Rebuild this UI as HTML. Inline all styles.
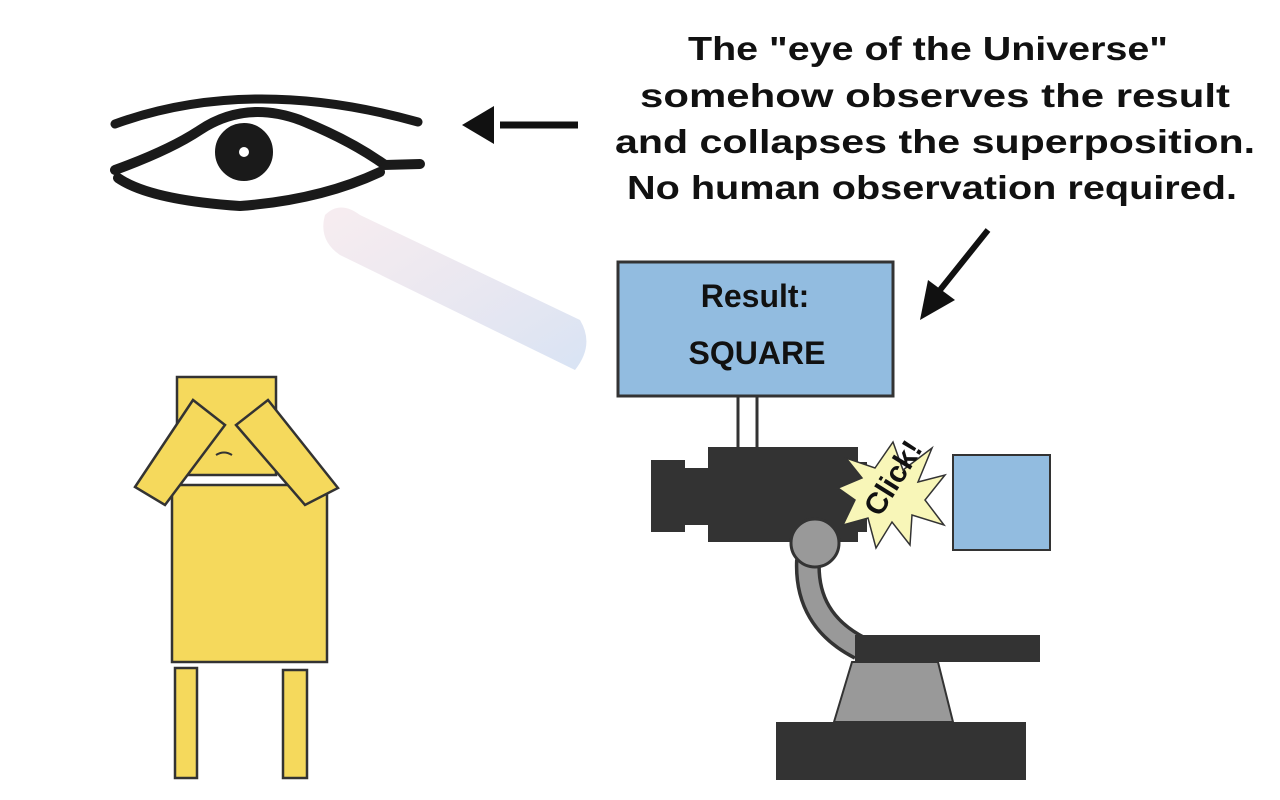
<!DOCTYPE html>
<html><head><meta charset="utf-8"><style>
html,body{margin:0;padding:0;background:#fff}
svg{display:block}
text{font-family:"Liberation Sans",sans-serif}
</style></head><body>
<svg width="1280" height="800" viewBox="0 0 1280 800" xmlns="http://www.w3.org/2000/svg">
<defs>
<linearGradient id="beam" x1="0" y1="0" x2="1" y2="1">
<stop offset="0" stop-color="#d8a8b8" stop-opacity="0.3"/>
<stop offset="1" stop-color="#90b0e0" stop-opacity="0.5"/>
</linearGradient>
</defs>
<g font-size="33" fill="#111" text-anchor="middle" font-weight="bold">
<text x="928" y="60" textLength="480" lengthAdjust="spacingAndGlyphs">The "eye of the Universe"</text>
<text x="935" y="107" textLength="590" lengthAdjust="spacingAndGlyphs">somehow observes the result</text>
<text x="935" y="153" textLength="640" lengthAdjust="spacingAndGlyphs">and collapses the superposition.</text>
<text x="932" y="199" textLength="610" lengthAdjust="spacingAndGlyphs">No human observation required.</text>
</g>
<line x1="578" y1="125" x2="500" y2="125" stroke="#111" stroke-width="7"/>
<polygon points="462,125 494,106 494,144" fill="#111"/>
<line x1="988" y1="230" x2="940" y2="290" stroke="#111" stroke-width="6"/>
<polygon points="920,320 928,280 955,300" fill="#111"/>
<g fill="none" stroke="#1a1a1a" stroke-linecap="round">
<path d="M115,124 Q250,75 418,122" stroke-width="9"/>
<path d="M115,170 Q170,150 200,130 Q245,100 300,120 Q350,140 385,165 L420,164" stroke-width="10"/>
<path d="M118,178 Q150,200 240,206 Q320,200 380,172" stroke-width="10"/>
<circle cx="244" cy="152" r="17" stroke-width="24"/>
</g>
<path d="M325,215 Q340,200 360,215 L580,320 Q595,345 575,370 L340,255 Q318,240 325,215Z" fill="url(#beam)" opacity="0.7"/>
<rect x="618" y="262" width="275" height="134" fill="#92bce0" stroke="#333" stroke-width="3"/>
<g font-size="32" fill="#111" text-anchor="middle" font-weight="bold">
<text x="755" y="307">Result:</text>
<text x="757" y="364">SQUARE</text>
</g>
<rect x="738" y="396" width="19" height="54" fill="#fff" stroke="#333" stroke-width="3"/>
<rect x="651" y="460" width="34" height="72" fill="#333"/>
<rect x="680" y="468" width="32" height="57" fill="#333"/>
<rect x="708" y="447" width="150" height="95" fill="#333"/>
<rect x="855" y="462" width="12" height="70" fill="#333"/>
<path d="M808,560 Q805,620 860,648" fill="none" stroke="#333" stroke-width="26"/>
<path d="M808,560 Q805,620 860,648" fill="none" stroke="#999" stroke-width="19"/>
<circle cx="815" cy="543" r="24" fill="#999" stroke="#333" stroke-width="3"/>
<rect x="855" y="635" width="185" height="27" fill="#333"/>
<polygon points="852,662 938,662 953,722 834,722" fill="#999" stroke="#333" stroke-width="2"/>
<rect x="776" y="722" width="250" height="58" fill="#333"/>
<rect x="953" y="455" width="97" height="95" fill="#92bce0" stroke="#333" stroke-width="2"/>
<polygon points="893,442 903,470 932,448 918,482 945,475 925,500 944,525 912,515 910,545 892,522 876,548 868,518 843,525 855,500 838,488 862,478 846,458 875,468" fill="#f8f6b8" stroke="#333" stroke-width="1.5"/>
<text x="0" y="0" font-size="30" font-weight="bold" fill="#111" transform="translate(880,518) rotate(-58)">Click!</text>
<g fill="#f5d95c" stroke="#333" stroke-width="2.5">
<rect x="177" y="377" width="99" height="98"/>
<rect x="172" y="485" width="155" height="177"/>
<rect x="175" y="668" width="22" height="110"/>
<rect x="283" y="670" width="24" height="108"/>
<polygon points="135,487 193,400 225,425 165,505"/>
<polygon points="338,488 268,400 236,425 305,505"/>
</g>
<path d="M216,455 q8,-5 16,0" fill="none" stroke="#333" stroke-width="2"/>
</svg>
</body></html>
